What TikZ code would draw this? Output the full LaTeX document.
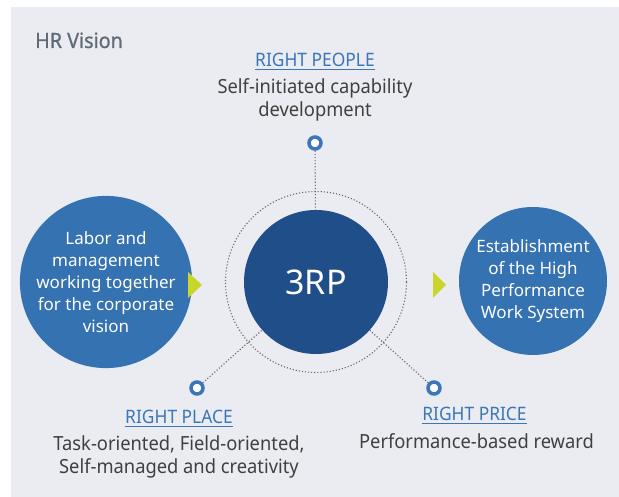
\documentclass[tikz,border=0pt]{standalone}
\usepackage{amsmath}
\usepackage{fontspec}
\setmainfont{Noto Sans}
\newfontfamily\narrowfont[FakeStretch=0.94]{Noto Sans}
\newfontfamily\titlefont[FakeStretch=0.94,FakeBold=0.8]{Noto Sans}
\usetikzlibrary{positioning}
\newdimen\unitsize
\setlength{\unitsize}{1pt}
\definecolor{bgray}{HTML}{EBECF1}
\definecolor{deepblue}{HTML}{1F4E89}
\definecolor{midblue}{HTML}{3572B1}
\definecolor{linkblue}{HTML}{3A76B8}
\definecolor{txtgray}{HTML}{404040}
\definecolor{ttlgray}{HTML}{5F6B76}
\definecolor{lime}{HTML}{C8D62A}
\definecolor{dotgray}{HTML}{666666}

\begin{document}
\begin{tikzpicture}[x=\unitsize,y=\unitsize,baseline=0]
\tikzset{side/.style={circle, fill=midblue, inner sep=0pt, text=white, align=center, font=\fontsize{17}{22}\selectfont}}%
\tikzset{ringmark/.style={circle, draw=linkblue, fill=white, line width=3.5pt, minimum size=12\unitsize, inner sep=0pt}}%
\tikzset{head/.style={anchor=base, text=linkblue, inner sep=0pt, font=\narrowfont\fontsize{18.5}{22}\selectfont}}%
\tikzset{body/.style={anchor=base, text=txtgray, align=center, inner sep=0pt, font=\narrowfont\fontsize{19.5}{23.5}\selectfont}}%
\tikzset{dotline/.style={dotgray, line width=1.1pt, dash pattern=on 1.1pt off 2pt}}%
\useasboundingbox (0,0) rectangle (619,497);
\fill[bgray] (11,0) rectangle (619,490);
\node[anchor=base west, inner sep=0pt, text=ttlgray, font=\titlefont\fontsize{21}{25}\selectfont] (title) at (35,449) {HR Vision};
% centre
\node[circle, draw, dotline, minimum size=181\unitsize] (halo) at (316,215) {};
\node[circle, fill=deepblue, minimum size=144\unitsize, text=white, font=\fontsize{34}{40}\selectfont] (core) at (316,215) {3RP};
\node[side, minimum size=147\unitsize] (labor) at (106,215) {Labor and\\management\\working together\\for the corporate\\vision};
\node[side, minimum size=148\unitsize] (hpws) at (533,216) {Establishment\\of the High\\Performance\\Work System};
\fill[lime] (188,225) -- (202,212) -- (188,199) -- cycle;
\fill[lime] (433,225) -- (446,212) -- (433,199) -- cycle;
% three RPs
\node[ringmark] (people) at (315,354) {};
\node[ringmark] (place) at (197,109) {};
\node[ringmark] (price) at (434,109) {};
\draw[dotline] (people) -- (core);
\draw[dotline] (place) -- (core);
\draw[dotline] (price) -- (core);
\node[head] (peoplehead) at (315,430) {\underline{RIGHT PEOPLE}};
\node[body] (peopletext) at (315,380) {Self-initiated capability\\development};
\node[head] (placehead) at (179,73) {\underline{RIGHT PLACE}};
\node[body] (placetext) at (179,23) {Task-oriented, Field-oriented,\\Self-managed and creativity};
\node[head] (pricehead) at (474.5,76) {\underline{RIGHT PRICE}};
\node[body] (pricetext) at (476.5,48) {Performance-based reward};
\end{tikzpicture}
\end{document}
